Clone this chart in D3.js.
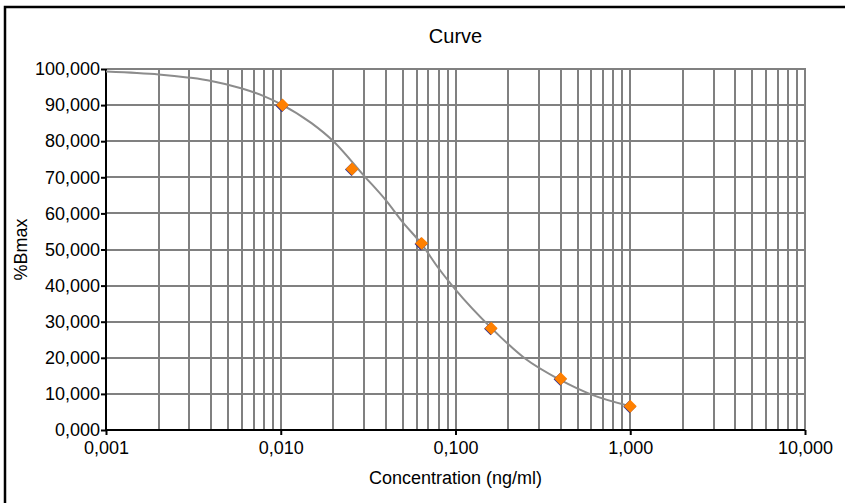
<!DOCTYPE html>
<html>
<head>
<meta charset="utf-8">
<script src="https://cdn.jsdelivr.net/npm/d3@7"></script>
<style>
  html, body { margin: 0; padding: 0; background: #fff; }
  svg { display: block; }
  text { font-family: "Liberation Sans", Arial, sans-serif; fill: #000; }
</style>
</head>
<body>
<svg id="chart" width="845" height="503"></svg>
<script>
// ---- data ----
const title = "Curve";
const xLabel = "Concentration (ng/ml)";
const yLabel = "%Bmax";

// measured standards
const pointX = [0.01024, 0.0256, 0.064, 0.16, 0.4, 1];
const pointY = [90.0, 72.3, 51.7, 28.2, 14.2, 6.6];

// fitted curve
const curveX = [0.001, 0.0015, 0.002, 0.003, 0.004, 0.006, 0.008, 0.01, 0.015, 0.02, 0.03, 0.04, 0.05, 0.064, 0.08, 0.1, 0.16, 0.25, 0.4, 0.6, 1];
const curveY = [99.3, 98.9, 98.5, 97.6, 96.7, 94.6, 92.5, 90.3, 85.0, 80.0, 70.4, 63.6, 57.5, 51.5, 44.8, 38.9, 28.3, 19.8, 13.8, 9.8, 6.6];

const xTicks = [0.001, 0.01, 0.1, 1, 10];
const xTickLabels = ["0,001", "0,010", "0,100", "1,000", "10,000"];
const yTicks = [0, 10, 20, 30, 40, 50, 60, 70, 80, 90, 100];
const yTickLabels = ["0,000", "10,000", "20,000", "30,000", "40,000", "50,000", "60,000", "70,000", "80,000", "90,000", "100,000"];

// ---- drawing ----
const svg = d3.select("#chart");
const pL = 106, pR = 805, pT = 69, pB = 430;

const x = d3.scaleLog().domain([0.001, 10]).range([pL, pR]);
const y = d3.scaleLinear().domain([0, 100]).range([pB, pT]);

// outer frame
svg.append("rect")
  .attr("x", 5).attr("y", 7).attr("width", 900).attr("height", 600)
  .attr("fill", "none").attr("stroke", "#000").attr("stroke-width", 2.5);

const grid = svg.append("g").attr("stroke", "#808080").attr("stroke-width", 2);

// vertical minor/major grid lines
const vLines = [];
[0.001, 0.01, 0.1, 1].forEach(d => { for (let k = 1; k <= 9; k++) vLines.push(d * k); });
vLines.push(10);
grid.selectAll("line.v").data(vLines.filter(v => v > 0.001 + 1e-12)).join("line")
  .attr("class", "v")
  .attr("x1", d => Math.round(x(d))).attr("x2", d => Math.round(x(d)))
  .attr("y1", pT - 1).attr("y2", pB);

// horizontal grid lines
grid.selectAll("line.h").data(yTicks.filter(v => v > 0)).join("line")
  .attr("class", "h")
  .attr("x1", pL).attr("x2", pR)
  .attr("y1", d => Math.round(y(d))).attr("y2", d => Math.round(y(d)));

// axes
const xAxis = d3.axisBottom(x).tickValues(xTicks)
  .tickFormat((d, i) => xTickLabels[i]).tickSize(5).tickPadding(6);
const yAxis = d3.axisLeft(y).tickValues(yTicks)
  .tickFormat((d, i) => yTickLabels[i]).tickSize(5).tickPadding(1);

const gx = svg.append("g").attr("transform", `translate(0,${pB})`).call(xAxis);
const gy = svg.append("g").attr("transform", `translate(${pL},0)`).call(yAxis);
[gx, gy].forEach(g => {
  g.select(".domain").attr("stroke", "#000").attr("stroke-width", 2);
  g.selectAll(".tick line").attr("stroke", "#000").attr("stroke-width", 2);
  g.selectAll(".tick text")
    .attr("font-family", "'Liberation Sans', Arial, sans-serif")
    .attr("font-size", 18).attr("fill", "#111");
});
gy.select(".domain").attr("d", `M0,${pB}V${pT}`);
gx.select(".domain").attr("d", `M${pL},0H${pR}`);

// fitted curve
const curveData = curveX.map((v, i) => [v, curveY[i]]);
svg.append("path")
  .datum(curveData)
  .attr("fill", "none")
  .attr("stroke", "#8c8c8c")
  .attr("stroke-width", 2)
  .attr("d", d3.line().x(d => x(d[0])).y(d => y(d[1])).curve(d3.curveMonotoneX));

// points (diamonds)
const pts = pointX.map((v, i) => [v, pointY[i]]);
const diamond = d3.symbol().type(d3.symbolSquare).size(84);
svg.append("g").selectAll("path").data(pts).join("path")
  .attr("d", diamond)
  .attr("transform", d => `translate(${x(d[0]) - 0.6},${y(d[1]) + 0.6}) rotate(45)`)
  .attr("fill", "#2a2a90");
svg.append("g").selectAll("path").data(pts).join("path")
  .attr("d", diamond)
  .attr("transform", d => `translate(${x(d[0])},${y(d[1])}) rotate(45)`)
  .attr("fill", "#ff8000");

// titles
svg.append("text")
  .attr("x", (pL + pR) / 2).attr("y", 43)
  .attr("text-anchor", "middle").attr("font-size", 20)
  .text(title);

svg.append("text")
  .attr("x", (pL + pR) / 2).attr("y", 484)
  .attr("text-anchor", "middle").attr("font-size", 18)
  .text(xLabel);

svg.append("text")
  .attr("transform", `translate(27,${(pT + pB) / 2}) rotate(-90)`)
  .attr("text-anchor", "middle").attr("font-size", 18)
  .text(yLabel);
</script>
</body>
</html>
